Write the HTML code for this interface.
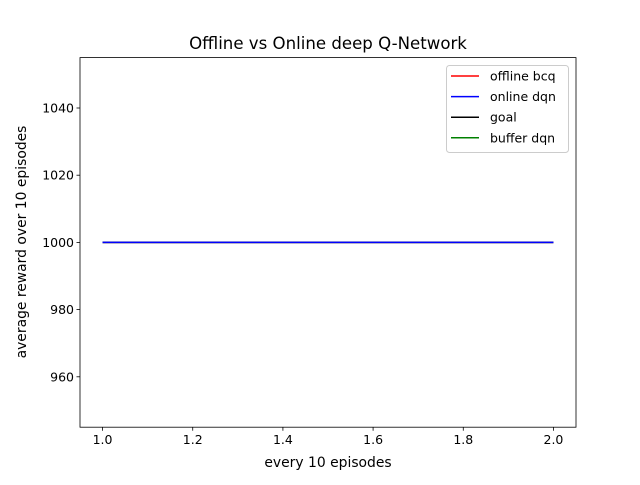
<!DOCTYPE html>
<html><head><meta charset="utf-8"><style>
body{margin:0;background:#fff}
svg text{font-family:"DejaVu Sans","Liberation Sans",sans-serif;fill:#000}
</style></head><body>
<svg id="chart" width="640" height="480" xmlns="http://www.w3.org/2000/svg">
<rect width="640" height="480" fill="#fff"/>
<text x="328" y="49" font-size="16.6" text-anchor="middle">Offline vs Online deep Q-Network</text>
<g id="axes"></g>
<g id="series"></g>
<g id="legend"></g>
<text x="328" y="467" font-size="13.9" text-anchor="middle">every 10 episodes</text>
<text transform="translate(26,242) rotate(-90)" font-size="13.9" text-anchor="middle">average reward over 10 episodes</text>
</svg>
<script>
const xTicks=[1.0,1.2,1.4,1.6,1.8,2.0];
const yTicks=[960,980,1000,1020,1040];
const seriesNames=["offline bcq","online dqn","goal","buffer dqn"];
const seriesColors=["#ff0000","#0000ff","#000000","#008000"];
const xValues=[1,2];
const bcqValues=[1000,1000];
const dqnValues=[1000,1000];
const goalValues=[1000,1000];
const bufferValues=[1000,1000];
const drawOrder=[0,3,2,1];
const L=80,R=576,T=57.6,B=427.2;
const xmin=0.95,xmax=2.05,ymin=945,ymax=1055;
const xs=v=>L+(v-xmin)/(xmax-xmin)*(R-L);
const ys=v=>B-(v-ymin)/(ymax-ymin)*(B-T);
const NS="http://www.w3.org/2000/svg";
function mk(t,a,p){const e=document.createElementNS(NS,t);for(const k in a)e.setAttribute(k,a[k]);p.appendChild(e);return e;}
const ax=document.getElementById('axes');
xTicks.forEach(v=>{const x=xs(v);
const t=mk('line',{x1:x,x2:x,y1:B,y2:B+3.5,stroke:'#000','stroke-width':0.8},ax);


const l=mk('text',{x:x,y:B+17,'font-size':12.5,'text-anchor':'middle'},ax);l.textContent=v.toFixed(1);

});
yTicks.forEach(v=>{const y=ys(v);
const t=mk('line',{x1:L-3.5,x2:L,y1:y,y2:y,stroke:'#000','stroke-width':0.8},ax);


const l=mk('text',{x:L-6,y:y+4.5,'font-size':12.5,'text-anchor':'end'},ax);l.textContent=v;

});
const allSeries=[bcqValues,dqnValues,goalValues,bufferValues];
const sg=document.getElementById('series');
drawOrder.forEach(i=>{const pts=xValues.map((x,j)=>xs(x)+','+ys(allSeries[i][j])).join(' ');
const p=mk('polyline',{points:pts,fill:'none',stroke:seriesColors[i],'stroke-width':1.5},sg);

});
const fr=mk('rect',{x:L,y:T,width:R-L,height:B-T,fill:'none',stroke:'#000','stroke-width':0.8},ax);


const lg=document.getElementById('legend');
mk('rect',{x:446.5,y:65.5,width:122,height:87,rx:3,fill:'#fff','fill-opacity':0.8,stroke:'#ccc','stroke-width':1},lg);
seriesNames.forEach((n,i)=>{const y=76+i*20.6;
const ln=mk('line',{x1:451,x2:479,y1:y,y2:y,stroke:seriesColors[i],'stroke-width':1.5},lg);


const t=mk('text',{x:490,y:y+4.5,'font-size':12.5},lg);t.textContent=n;

});
</script>
</body></html>
